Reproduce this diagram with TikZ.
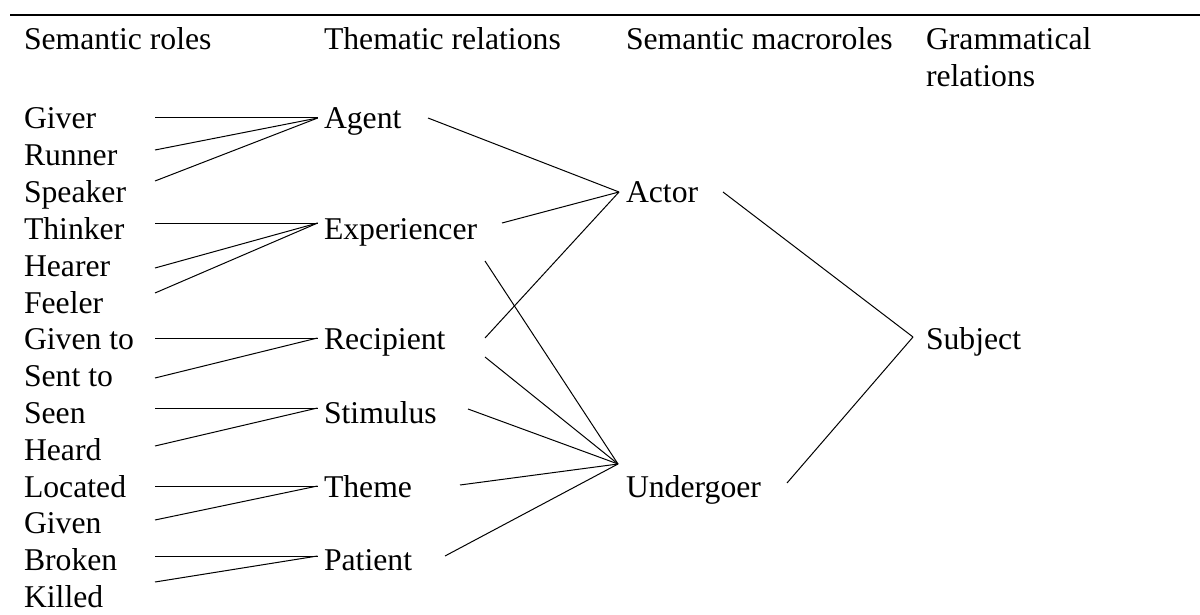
\documentclass[tikz,border=0pt]{standalone}
\usepackage{fontspec}
\setmainfont{Liberation Serif}
\begin{document}
\begin{tikzpicture}[x=1pt,y=-1pt,
  lbl/.style={anchor=base west,inner sep=0pt,outer sep=0pt,font=\fontsize{31.7}{36.8}\selectfont},
  conn/.style={line width=1pt,line join=miter},
  rule/.style={line width=2.2pt}]
\useasboundingbox (0,0) rectangle (1200,615);
% top rule
\coordinate (rl) at (10,15);
\coordinate (rr) at (1200,15);
\draw[rule] (rl) -- (rr);
% headers
\node[lbl] (h1) at (24,50) {Semantic roles};
\node[lbl] (h2) at (324,50) {Thematic relations};
\node[lbl] (h3) at (626,50) {Semantic macroroles};
\node[lbl] (h4) at (926,50) {\parbox[t]{8cm}{\raggedright Grammatical\\relations}};
% column 1
\node[lbl] (giver)   at (24,129.0) {Giver};
\node[lbl] (runner)  at (24,165.8) {Runner};
\node[lbl] (speaker) at (24,202.6) {Speaker};
\node[lbl] (thinker) at (24,239.4) {Thinker};
\node[lbl] (hearer)  at (24,276.2) {Hearer};
\node[lbl] (feeler)  at (24,313.0) {Feeler};
\node[lbl] (givento) at (24,349.8) {Given to};
\node[lbl] (sentto)  at (24,386.6) {Sent to};
\node[lbl] (seen)    at (24,423.4) {Seen};
\node[lbl] (heard)   at (24,460.2) {Heard};
\node[lbl] (located) at (24,497.0) {Located};
\node[lbl] (given)   at (24,533.8) {Given};
\node[lbl] (broken)  at (24,570.6) {Broken};
\node[lbl] (killed)  at (24,607.4) {Killed};
% column 2
\node[lbl] (agent)    at (324,129.0) {Agent};
\node[lbl] (exper)    at (324,239.4) {Experiencer};
\node[lbl] (recip)    at (324,349.8) {Recipient};
\node[lbl] (stim)     at (324,423.4) {Stimulus};
\node[lbl] (theme)    at (324,497.0) {Theme};
\node[lbl] (patient)  at (324,570.6) {Patient};
% column 3
\node[lbl] (actor)    at (626,202.6) {Actor};
\node[lbl] (under)    at (626,497.0) {Undergoer};
% column 4
\node[lbl] (subject)  at (926,349.8) {Subject};
% connector end points, column 1
\coordinate (giver-o)   at (155,118);
\coordinate (runner-o)  at (155,150);
\coordinate (speaker-o) at (155,181);
\coordinate (thinker-o) at (155,223);
\coordinate (hearer-o)  at (155,268);
\coordinate (feeler-o)  at (155,293);
\coordinate (givento-o) at (155,338);
\coordinate (sentto-o)  at (155,378);
\coordinate (seen-o)    at (155,408);
\coordinate (heard-o)   at (155,446);
\coordinate (located-o) at (155,486);
\coordinate (given-o)   at (155,520);
\coordinate (broken-o)  at (155,556);
\coordinate (killed-o)  at (155,582);
% column 2 inputs
\coordinate (agent-i)   at (317.7,118);
\coordinate (exper-i)   at (317.7,223);
\coordinate (recip-i)   at (317.5,338);
\coordinate (stim-i)    at (317.5,408);
\coordinate (theme-i)   at (317.5,486);
\coordinate (patient-i) at (317.5,556);
% column 2 outputs
\coordinate (agent-o)   at (428,118);
\coordinate (exper-oa)  at (502,223);
\coordinate (exper-ou)  at (485,261);
\coordinate (recip-oa)  at (485,338);
\coordinate (recip-ou)  at (485,357);
\coordinate (stim-o)    at (468,409);
\coordinate (theme-o)   at (460,485);
\coordinate (patient-o) at (445,556);
% column 3
\coordinate (actor-i)   at (619,192);
\coordinate (under-i)   at (618,464);
\coordinate (actor-o)   at (723,192);
\coordinate (under-o)   at (787,483);
% column 4
\coordinate (subject-i) at (913,337);
% connectors
\draw[conn] (giver-o) -- (agent-i);
\draw[conn] (runner-o) -- (agent-i);
\draw[conn] (speaker-o) -- (agent-i);
\draw[conn] (thinker-o) -- (exper-i);
\draw[conn] (hearer-o) -- (exper-i);
\draw[conn] (feeler-o) -- (exper-i);
\draw[conn] (givento-o) -- (recip-i);
\draw[conn] (sentto-o) -- (recip-i);
\draw[conn] (seen-o) -- (stim-i);
\draw[conn] (heard-o) -- (stim-i);
\draw[conn] (located-o) -- (theme-i);
\draw[conn] (given-o) -- (theme-i);
\draw[conn] (broken-o) -- (patient-i);
\draw[conn] (killed-o) -- (patient-i);
\draw[conn] (agent-o) -- (actor-i);
\draw[conn] (exper-oa) -- (actor-i);
\draw[conn] (recip-oa) -- (actor-i);
\draw[conn] (exper-ou) -- (under-i);
\draw[conn] (recip-ou) -- (under-i);
\draw[conn] (stim-o) -- (under-i);
\draw[conn] (theme-o) -- (under-i);
\draw[conn] (patient-o) -- (under-i);
\draw[conn] (actor-o) -- (subject-i);
\draw[conn] (under-o) -- (subject-i);
\end{tikzpicture}
\end{document}
